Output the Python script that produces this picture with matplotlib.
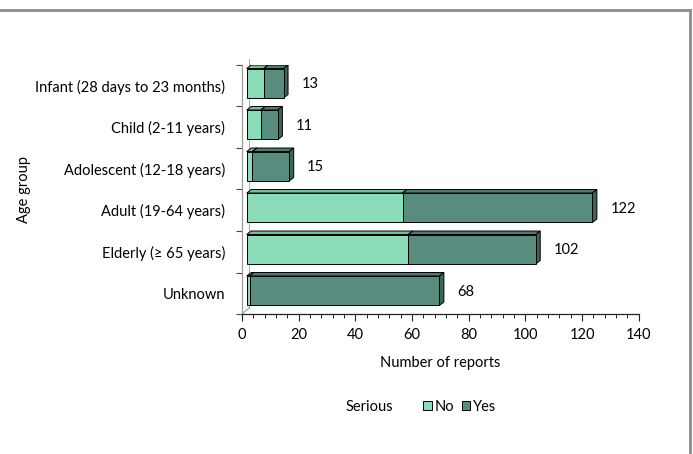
import matplotlib
matplotlib.use("Agg")
import matplotlib.pyplot as plt
from matplotlib.patches import Polygon, Patch
from matplotlib.transforms import Affine2D
from matplotlib.lines import Line2D

categories = ["Infant (28 days to 23 months)", "Child (2-11 years)", "Adolescent (12-18 years)",
              "Adult (19-64 years)", "Elderly (\u2265 65 years)", "Unknown"]
serious_no = [6, 5, 2, 55, 57, 1]
serious_yes = [7, 6, 13, 67, 45, 67]
totals = [13, 11, 15, 122, 102, 68]
xticks = [0, 20, 40, 60, 80, 100, 120, 140]

plt.rcParams['font.family'] = ['Lato', 'DejaVu Sans']
FS = 10.5

W, H, DPI = 693, 454, 100
fig = plt.figure(figsize=(W / DPI, H / DPI), dpi=DPI)
fig.patch.set_facecolor('white')

# axes placement (pixels)
x0px, x1px, ytop, ybot = 242, 638.7, 65, 314
ax = fig.add_axes([x0px / W, (H - ybot) / H, (x1px - x0px) / W, (ybot - ytop) / H])
ax.set_xlim(0, 140)
n = len(categories)
ax.set_ylim(n - 0.5, -0.5)

pxu_x = (x1px - x0px) / 140.0
pxu_y = (ybot - ytop) / n

front = Affine2D().translate(4.7, 2.5)
depth_x, depth_y = 4.5 / pxu_x, 3.5 / pxu_y  # depth in data units
bh = 0.71

col = {
    'No': ('#8BDDB9', '#6FC29E', '#5FA888'),
    'Yes': ('#578C7E', '#4A7D6F', '#3B6558'),
}

for i in range(n):
    left = 0.0
    for name, vals in (('No', serious_no), ('Yes', serious_yes)):
        w = vals[i]
        if w <= 0:
            continue
        fc, tc, rc = col[name]
        yt = i - bh / 2
        yb = i + bh / 2
        r = left + w
        tr = ax.transData + front
        top = Polygon([(left, yt), (r, yt), (r + depth_x, yt - depth_y), (left + depth_x, yt - depth_y)],
                      closed=True, facecolor=tc, edgecolor='black', linewidth=0.7, transform=tr, zorder=3)
        right = Polygon([(r, yt), (r + depth_x, yt - depth_y), (r + depth_x, yb - depth_y), (r, yb)],
                        closed=True, facecolor=rc, edgecolor='black', linewidth=0.7, transform=tr, zorder=3)
        ax.add_patch(top)
        ax.add_patch(right)
        bars = ax.barh([i], [w], left=[left], height=bh, color=fc, edgecolor='black', linewidth=0.7, zorder=4)
        for b in bars:
            b.set_transform(tr)
        left = r
    ax.annotate(str(totals[i]), xy=(totals[i], i), xytext=(4.7 + 18, 1.5), textcoords='offset pixels',
                ha='left', va='center', fontsize=FS, color='black')

# axes styling
for s in ('top', 'right'):
    ax.spines[s].set_visible(False)
ax.spines['left'].set_color('#9a9a9a')
ax.spines['left'].set_linewidth(0.9)
ax.spines['bottom'].set_color('#222222')
ax.spines['bottom'].set_linewidth(0.9)

ax.set_xticks(xticks)
ax.set_xticklabels([str(t) for t in xticks], fontsize=FS)
ax.set_xticks(range(0, 141, 4), minor=True)
ax.tick_params(axis='x', which='major', length=5, width=0.8, direction='out', color='#222222', pad=5)
ax.tick_params(axis='x', which='minor', length=3, width=0.7, direction='out', color='#222222')

ax.set_yticks(range(n))
ax.set_yticklabels(categories, fontsize=FS)
ax.set_yticks([k - 0.5 for k in range(n + 1)], minor=True)
ax.tick_params(axis='y', which='major', length=0, pad=12)
ax.tick_params(axis='y', which='minor', length=4, width=0.8, direction='out', color='#444444')

ax.set_xlabel("Number of reports", fontsize=FS, labelpad=10)
ax.set_ylabel("Age group", fontsize=FS, labelpad=3)

# 3D wall hints
wd = Affine2D().translate(7, 6)
ax.plot([0, 0], [n - 0.5, -0.5], transform=ax.transData + wd, color='#b0b0b0', lw=0.8, zorder=1, clip_on=False)
ax.add_line(Line2D([x0px, x0px + 7], [H - ybot, H - ybot + 6], color='#9a9a9a', lw=0.8, transform=None))
ax.add_line(Line2D([x0px, x0px + 9], [H - ytop, H - ytop + 8], color='#9a9a9a', lw=0.8, transform=None))

# legend
fig.text(346 / W, 1 - 407 / H, "Serious", fontsize=FS, ha='left', va='center')
handles = [Patch(facecolor=col['No'][0], edgecolor='black', linewidth=0.7),
           Patch(facecolor=col['Yes'][0], edgecolor='black', linewidth=0.7)]
fig.legend(handles, ['No', 'Yes'], loc='center left', bbox_to_anchor=(423 / W, 1 - 407 / H), ncol=2,
           frameon=False, fontsize=FS, handlelength=0.6, handleheight=0.6, handletextpad=0.2,
           columnspacing=0.5, borderpad=0, borderaxespad=0)

# chart border
fig.add_artist(Line2D([0, 690 / W], [1 - 10 / H, 1 - 10 / H], transform=fig.transFigure, color='#8c8c8c', lw=2))
fig.add_artist(Line2D([690 / W, 690 / W], [1 - 10 / H, 0], transform=fig.transFigure, color='#8c8c8c', lw=2))

fig.savefig("out.png", dpi=DPI, facecolor='white')
